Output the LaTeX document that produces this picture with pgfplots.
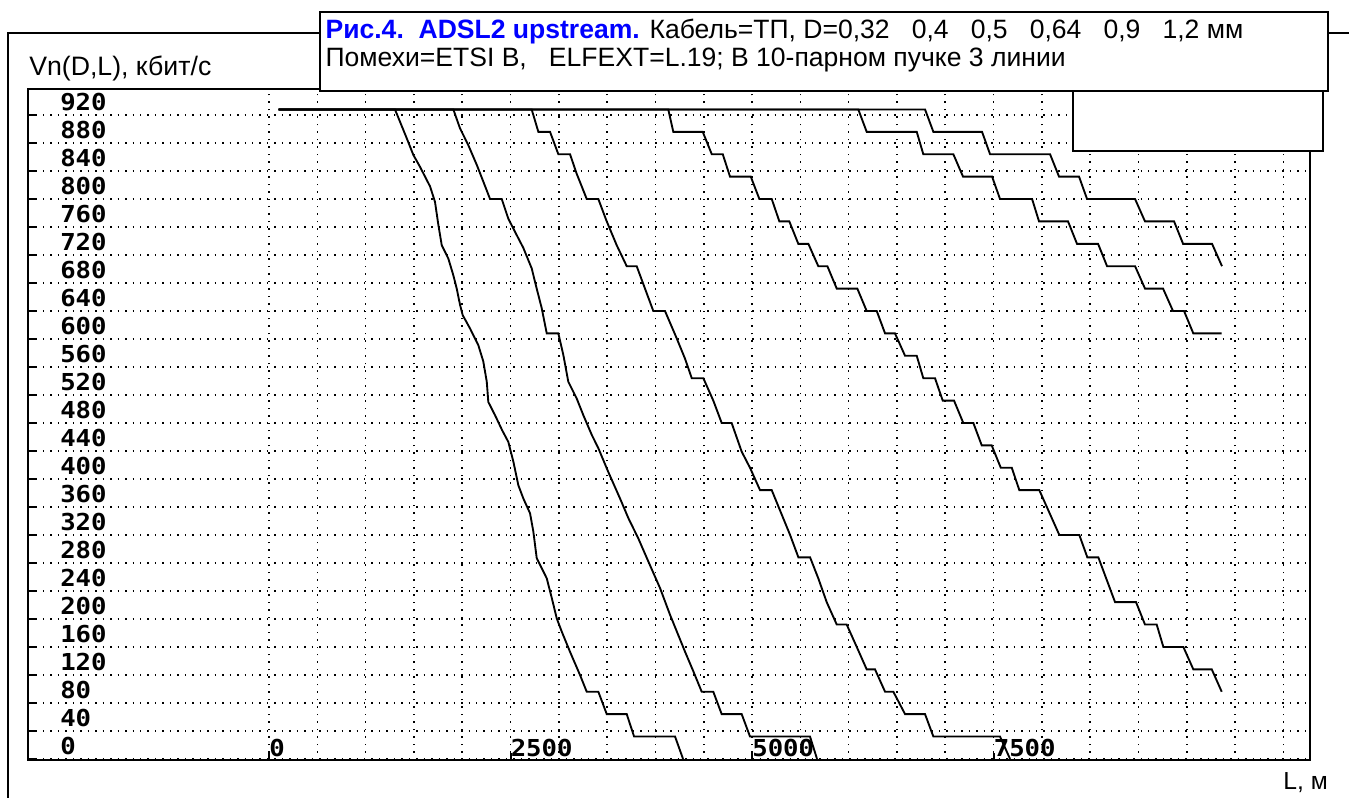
\documentclass[border=0pt]{standalone}
\usepackage{fontspec}
\setmainfont{Liberation Sans}
\newfontfamily\tickfont[FakeStretch=1.1]{DejaVu Sans Mono}
\usepackage{pgfplots}
\usepackage{pgfplotstable}
\pgfplotsset{compat=1.18}
\definecolor{titleblue}{RGB}{0,0,255}

\pgfplotstableread{
L V
100 928
1304 928
1425 887
1494 863
1563 846
1667 818
1718 796
1753 763
1788 734
1856 715
1908 691
1943 672
1977 649
2005 634
2081 615
2167 591
2218 568
2254 539
2270 510
2340 491
2412 470
2477 453
2529 425
2581 391
2633 372
2702 351
2736 325
2771 287
2875 258
2927 230
2978 201
3030 182
3116 153
3219 120
3289 96
3409 96
3496 64
3703 64
3779 32
4203 32
4286 0
}\curveA

\pgfplotstableread{
L V
100 928
1908 928
1977 901
2063 877
2150 849
2218 825
2288 800
2409 800
2477 772
2547 753
2633 730
2719 701
2771 672
2823 644
2875 608
2995 608
3047 577
3098 539
3185 515
3254 491
3341 463
3409 444
3512 410
3634 372
3720 344
3823 315
3927 282
4048 244
4151 206
4307 153
4393 125
4479 96
4599 96
4686 64
4893 64
4979 32
5600 32
5673 0
}\curveB

\pgfplotstableread{
L V
100 928
2719 928
2788 896
2909 896
2995 864
3116 864
3185 836
3289 800
3409 800
3496 768
3599 734
3703 704
3806 704
3892 672
3978 640
4099 640
4220 601
4306 572
4376 544
4496 544
4599 512
4686 480
4789 480
4893 439
4979 416
5083 384
5204 384
5290 355
5394 320
5480 288
5601 288
5686 258
5773 224
5877 192
5980 192
6084 160
6187 128
6273 128
6377 96
6463 96
6584 64
6791 64
6877 32
7567 32
7671 0
}\curveC

\pgfplotstableread{
L V
100 928
4133 928
4185 896
4490 896
4583 864
4697 864
4772 832
4987 832
5076 800
5204 800
5283 768
5386 768
5479 736
5583 736
5686 704
5780 704
5877 672
6090 672
6187 640
6291 640
6377 608
6480 608
6584 576
6705 576
6773 544
6894 544
6974 512
7091 512
7187 480
7291 480
7378 448
7481 448
7575 416
7689 416
7767 384
7974 384
8181 320
8388 320
8471 288
8585 288
8758 224
8975 224
9068 192
9189 192
9258 160
9465 160
9568 128
9759 128
9862 96
}\curveD

\pgfplotstableread{
L V
100 928
6100 928
6187 896
6705 896
6773 864
7084 864
7184 832
7485 832
7567 800
7899 800
7971 768
8271 768
8364 736
8582 736
8675 704
8965 704
9068 672
9255 672
9358 640
9472 640
9568 608
9862 608
}\curveE

\pgfplotstableread{
L V
100 928
6791 928
6877 896
7381 896
7464 864
8085 864
8178 832
8385 832
8468 800
8965 800
9068 768
9369 768
9462 736
9762 736
9865 704
}\curveF

\begin{document}
\begin{tikzpicture}[x=1pt,y=1pt]
\path[use as bounding box] (0,0) rectangle (1011.75,598.5);
\begin{axis}[
  at={(21pt,28.5pt)}, anchor=south west,
  scale only axis, width=961.5pt, height=502.875pt,
  xmin=-2495, xmax=10776, ymin=-1.5, ymax=956.5,
  scaled x ticks=false, scaled y ticks=false,
  xtick={0,2500,5000,7500}, xticklabels={0,2500,5000,7500},
  minor xtick={500,1000,...,10500},
  ytick={0,40,...,920},
  yticklabels={0,40,80,120,160,200,240,280,320,360,400,440,480,520,560,600,640,680,720,760,800,840,880,920},
  grid=both,
  major grid style={black, line width=1.2pt, dash pattern=on 1.1pt off 4.5pt},
  minor grid style={black, line width=1.2pt, dash pattern=on 1.1pt off 4.5pt},
  axis line style={line width=1.5pt},
  tick align=inside, xtick pos=left, ytick pos=left,
  major tick length=5pt, minor tick length=0pt,
  tick style={black, line width=1.5pt},
  tick label style={font=\fontsize{17.5}{18}\tickfont\bfseries},
  yticklabel style={anchor=south west, inner sep=0pt, xshift=24pt, yshift=3pt},
  xticklabel style={anchor=south west, inner sep=0pt, yshift=2.5pt, xshift=0pt},
]
\addplot[black, line width=1.4pt] table[x=L, y=V] {\curveA};
\addplot[black, line width=1.4pt] table[x=L, y=V] {\curveB};
\addplot[black, line width=1.4pt] table[x=L, y=V] {\curveC};
\addplot[black, line width=1.4pt] table[x=L, y=V] {\curveD};
\addplot[black, line width=1.4pt] table[x=L, y=V] {\curveE};
\addplot[black, line width=1.4pt] table[x=L, y=V] {\curveF};
\end{axis}
% outer frame
\draw[line width=1.5pt] (6.2,0) -- (6.2,574) -- (240,574);
\draw[line width=1.5pt] (996,574) -- (1011.75,574);
% title box
\draw[line width=1.5pt, fill=white] (240,530.5) rectangle (996,589.7);
\node[anchor=base west, inner sep=0pt, font=\fontsize{19.9}{22}\selectfont] at (244,569.6)
  {\textcolor{titleblue}{\bfseries Рис.4.\ \ ADSL2 upstream.} Кабель=ТП, D=0,32\ \ \ 0,4\ \ \ 0,5\ \ \ 0,64\ \ \ 0,9\ \ \ 1,2 мм};
\node[anchor=base west, inner sep=0pt, font=\fontsize{19.9}{22}\selectfont] at (244,548.6)
  {Помехи=ETSI B,\ \ \ ELFEXT=L.19; В 10-парном пучке 3 линии};
% legend box (empty)
\draw[line width=1.5pt, fill=white] (804.5,485.25) rectangle (992.5,530.5);
% axis labels
\node[anchor=base west, inner sep=0pt, font=\fontsize{20}{22}\selectfont] at (21.75,541.5) {Vn(D,L), кбит/с};
\node[anchor=base east, inner sep=0pt, font=\fontsize{18.5}{20}\selectfont] at (996,6) {L, м};
\end{tikzpicture}
\end{document}
